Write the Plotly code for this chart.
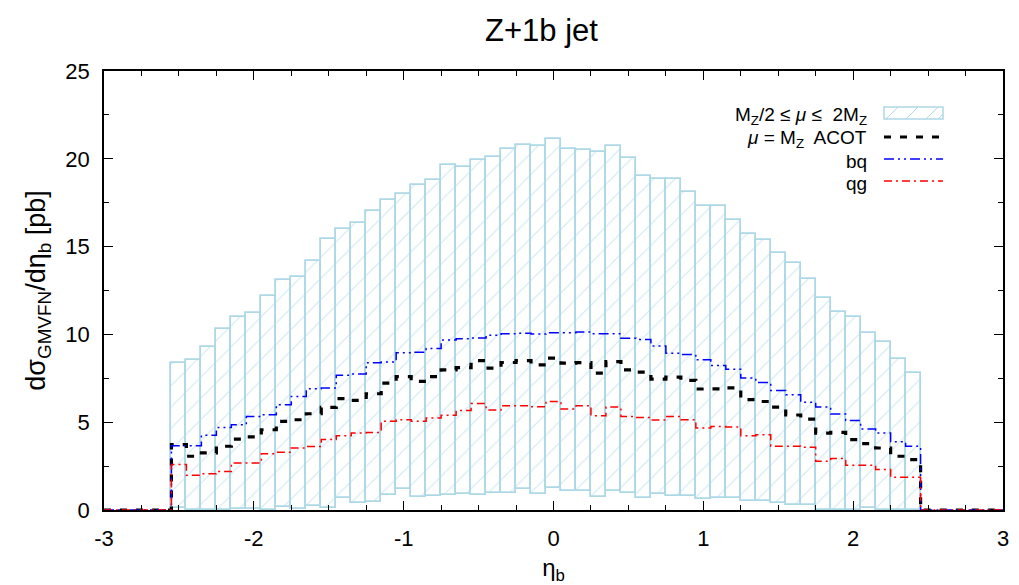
import plotly.graph_objects as go

# ---------------- data ----------------
eta_centers = [-2.5, -2.4, -2.3, -2.2, -2.1, -2.0, -1.9, -1.8, -1.7, -1.6,
               -1.5, -1.4, -1.3, -1.2, -1.1, -1.0, -0.9, -0.8, -0.7, -0.6,
               -0.5, -0.4, -0.3, -0.2, -0.1, 0.0, 0.1, 0.2, 0.3, 0.4,
               0.5, 0.6, 0.7, 0.8, 0.9, 1.0, 1.1, 1.2, 1.3, 1.4,
               1.5, 1.6, 1.7, 1.8, 1.9, 2.0, 2.1, 2.2, 2.3, 2.4]
bin_width = 0.1

band_upper = [8.40, 8.55, 9.27, 10.30, 11.01, 11.20, 12.19, 13.08, 13.29, 14.19,
              15.46, 15.99, 16.35, 17.00, 17.68, 18.02, 18.49, 18.78, 19.65, 19.53,
              19.91, 20.09, 20.54, 20.78, 20.75, 21.13, 20.58, 20.52, 20.37, 20.75,
              20.03, 19.04, 18.83, 18.83, 18.13, 17.34, 17.34, 16.49, 15.69, 15.37,
              14.65, 14.08, 13.13, 12.06, 11.28, 10.98, 10.10, 9.57, 8.59, 7.83]
band_lower = [0.10, 0.00, 0.00, 0.00, 0.08, 0.05, 0.00, 0.18, 0.08, 0.24,
              0.12, 0.67, 0.40, 0.45, 0.83, 1.18, 0.73, 0.80, 0.87, 0.92,
              0.87, 0.95, 0.97, 1.17, 0.92, 1.28, 1.06, 1.11, 0.75, 1.07,
              0.98, 0.69, 0.90, 0.77, 0.77, 0.62, 0.67, 0.69, 0.50, 0.52,
              0.38, 0.31, 0.26, 0.00, 0.00, 0.00, 0.10, 0.00, 0.00, 0.00]
acot = [3.72, 3.06, 3.25, 3.63, 4.04, 4.16, 4.57, 5.05, 5.14, 5.48,
        5.84, 6.34, 6.24, 6.62, 7.23, 7.60, 7.32, 7.60, 7.98, 8.11,
        8.51, 8.08, 8.40, 8.51, 8.27, 8.65, 8.36, 8.39, 7.79, 8.45,
        7.98, 7.85, 7.45, 7.57, 7.38, 6.89, 6.90, 6.96, 6.28, 6.18,
        5.86, 5.41, 5.18, 4.38, 4.42, 4.01, 3.78, 3.53, 3.06, 2.87]
bq = [3.66, 3.66, 4.25, 4.70, 4.85, 5.33, 5.43, 5.99, 6.47, 6.90,
      6.95, 7.68, 7.74, 8.38, 8.43, 8.95, 8.98, 9.20, 9.68, 9.75,
      9.80, 9.95, 10.04, 10.07, 10.02, 10.10, 10.10, 10.13, 10.03, 10.03,
      9.78, 9.71, 9.34, 8.93, 8.85, 8.55, 8.23, 8.02, 7.51, 7.26,
      6.81, 6.56, 6.13, 5.86, 5.46, 5.09, 4.61, 4.38, 3.89, 3.63]
qg = [2.59, 1.98, 2.06, 2.19, 2.68, 2.68, 3.21, 3.29, 3.53, 3.62,
      4.01, 4.23, 4.38, 4.42, 5.05, 5.14, 5.05, 5.24, 5.40, 5.66,
      6.07, 5.70, 5.94, 5.94, 5.88, 6.18, 5.75, 5.94, 5.37, 5.86,
      5.33, 5.27, 5.13, 5.33, 5.14, 4.67, 4.76, 4.73, 4.23, 4.29,
      3.63, 3.63, 3.57, 2.77, 2.93, 2.55, 2.55, 2.30, 1.86, 1.86]

x_range = [-3, 3]
y_range = [0, 25]
x_ticks = [-3, -2, -1, 0, 1, 2, 3]
x_ticklabels = ["-3", "-2", "-1", "0", "1", "2", "3"]
y_ticks = [0, 5, 10, 15, 20, 25]
y_ticklabels = ["0", "5", "10", "15", "20", "25"]

title_text = "Z+1b jet"
legend_labels = ["M<sub>Z</sub>/2 ≤ <i>μ</i> ≤  2M<sub>Z</sub>",
                 "<i>μ</i> = M<sub>Z</sub>  ACOT",
                 "bq",
                 "qg"]

# ---------------- styles ----------------
FONT = "Helvetica, Arial, 'Liberation Sans', sans-serif"
LIGHTBLUE = "#add8e6"
BLUE = "#0000ff"
RED = "#ff0000"

# step-line coordinates built from the bin data (left edges, with zero outside)
def step_xy(vals):
    xs = [x_range[0]] + [c - bin_width / 2 for c in eta_centers] + \
         [eta_centers[-1] + bin_width / 2, x_range[1]]
    ys = [0] + list(vals) + [0, 0]
    return xs, ys

fig = go.Figure()

fig.add_trace(go.Bar(
    x=eta_centers,
    y=[u - l for u, l in zip(band_upper, band_lower)],
    base=band_lower,
    width=bin_width,
    marker=dict(color="white",
                line=dict(color=LIGHTBLUE, width=1.8),
                pattern=dict(shape="/", fgcolor=LIGHTBLUE, bgcolor="white",
                             size=15, solidity=0.08)),
    showlegend=False, hoverinfo="skip",
))

for vals, color, width, dash in [
    (acot, "black", 3.2, "7px,9px"),
    (bq, BLUE, 1.5, "10px,4px,2px,4px,2px,4px"),
    (qg, RED, 1.5, "8px,4px,2px,4px"),
]:
    xs, ys = step_xy(vals)
    fig.add_trace(go.Scatter(x=xs, y=ys, mode="lines",
                             line=dict(color=color, width=width, dash=dash, shape="hv"),
                             showlegend=False, hoverinfo="skip"))

# ---------------- manual gnuplot-style key ----------------
L, R, T, B = 104, 16, 71, 75
W, H = 1019, 585
pw, ph = W - L - R, H - T - B

def px(xp):
    return (xp - L) / pw

def py(yp):
    return (H - B - yp) / ph

text_right = 869
sample_x0, sample_x1 = 884, 943
rows_y = [116, 139, 161, 183]

shapes = []
annotations = []
for lab, yy in zip(legend_labels, rows_y):
    annotations.append(dict(text=lab, xref="paper", yref="paper",
                            x=px(text_right), y=py(yy), xanchor="right", yanchor="middle",
                            showarrow=False, font=dict(family=FONT, size=19, color="black")))

# hatched box sample
by0, by1 = 107, 119
shapes.append(dict(type="rect", xref="paper", yref="paper",
                   x0=px(sample_x0), x1=px(sample_x1), y0=py(by1), y1=py(by0),
                   line=dict(color=LIGHTBLUE, width=1.5), fillcolor="white", layer="above"))
for hx in [886, 906, 926]:
    shapes.append(dict(type="line", xref="paper", yref="paper",
                       x0=px(hx), y0=py(by1), x1=px(hx + 12), y1=py(by0),
                       line=dict(color=LIGHTBLUE, width=1), layer="above"))
shapes.append(dict(type="line", xref="paper", yref="paper",
                   x0=px(938), y0=py(by1), x1=px(943), y1=py(by1 - 5),
                   line=dict(color=LIGHTBLUE, width=1), layer="above"))

for yy, color, width, dash in [
    (rows_y[1] - 2, "black", 3.2, "7px,9px"),
    (rows_y[2] - 2, BLUE, 1.5, "10px,4px,2px,4px,2px,4px"),
    (rows_y[3] - 2, RED, 1.5, "8px,4px,2px,4px"),
]:
    shapes.append(dict(type="line", xref="paper", yref="paper",
                       x0=px(sample_x0), x1=px(sample_x1), y0=py(yy), y1=py(yy),
                       line=dict(color=color, width=width, dash=dash), layer="above"))

axis_common = dict(showline=True, linecolor="black", linewidth=1.5, mirror="ticks",
                   ticks="inside", ticklen=9, tickwidth=1.3, tickcolor="black",
                   showgrid=False, zeroline=False, automargin=False,
                   tickfont=dict(family=FONT, size=22, color="black"))

fig.update_layout(
    width=W, height=H,
    margin=dict(l=L, r=R, t=T, b=B, pad=0),
    paper_bgcolor="white", plot_bgcolor="white",
    bargap=0, barmode="overlay",
    title=dict(text=title_text, x=(L + pw / 2 - 12) / W, xanchor="center",
               y=1 - 30 / H, yanchor="middle",
               font=dict(family=FONT, size=31, color="black")),
    xaxis=dict(range=x_range, tickvals=x_ticks, ticktext=x_ticklabels, **axis_common,
               ticklabelstandoff=8,
               minor=dict(dtick=0.25, ticks="inside", ticklen=5, tickwidth=1.2, tickcolor="black"),
               title=dict(text="η<sub>b</sub>", standoff=16,
                          font=dict(family=FONT, size=24, color="black"))),
    yaxis=dict(range=y_range, tickvals=y_ticks, ticktext=y_ticklabels, **axis_common,
               ticklabelstandoff=8,
               minor=dict(dtick=2.5, ticks="inside", ticklen=5, tickwidth=1.2, tickcolor="black"),
               title=dict(text="dσ<sub>GMVFN</sub>/dη<sub>b</sub> [pb]", standoff=12,
                          font=dict(family=FONT, size=27, color="black"))),
    shapes=shapes,
    annotations=annotations,
)

fig.write_html("out.html")
